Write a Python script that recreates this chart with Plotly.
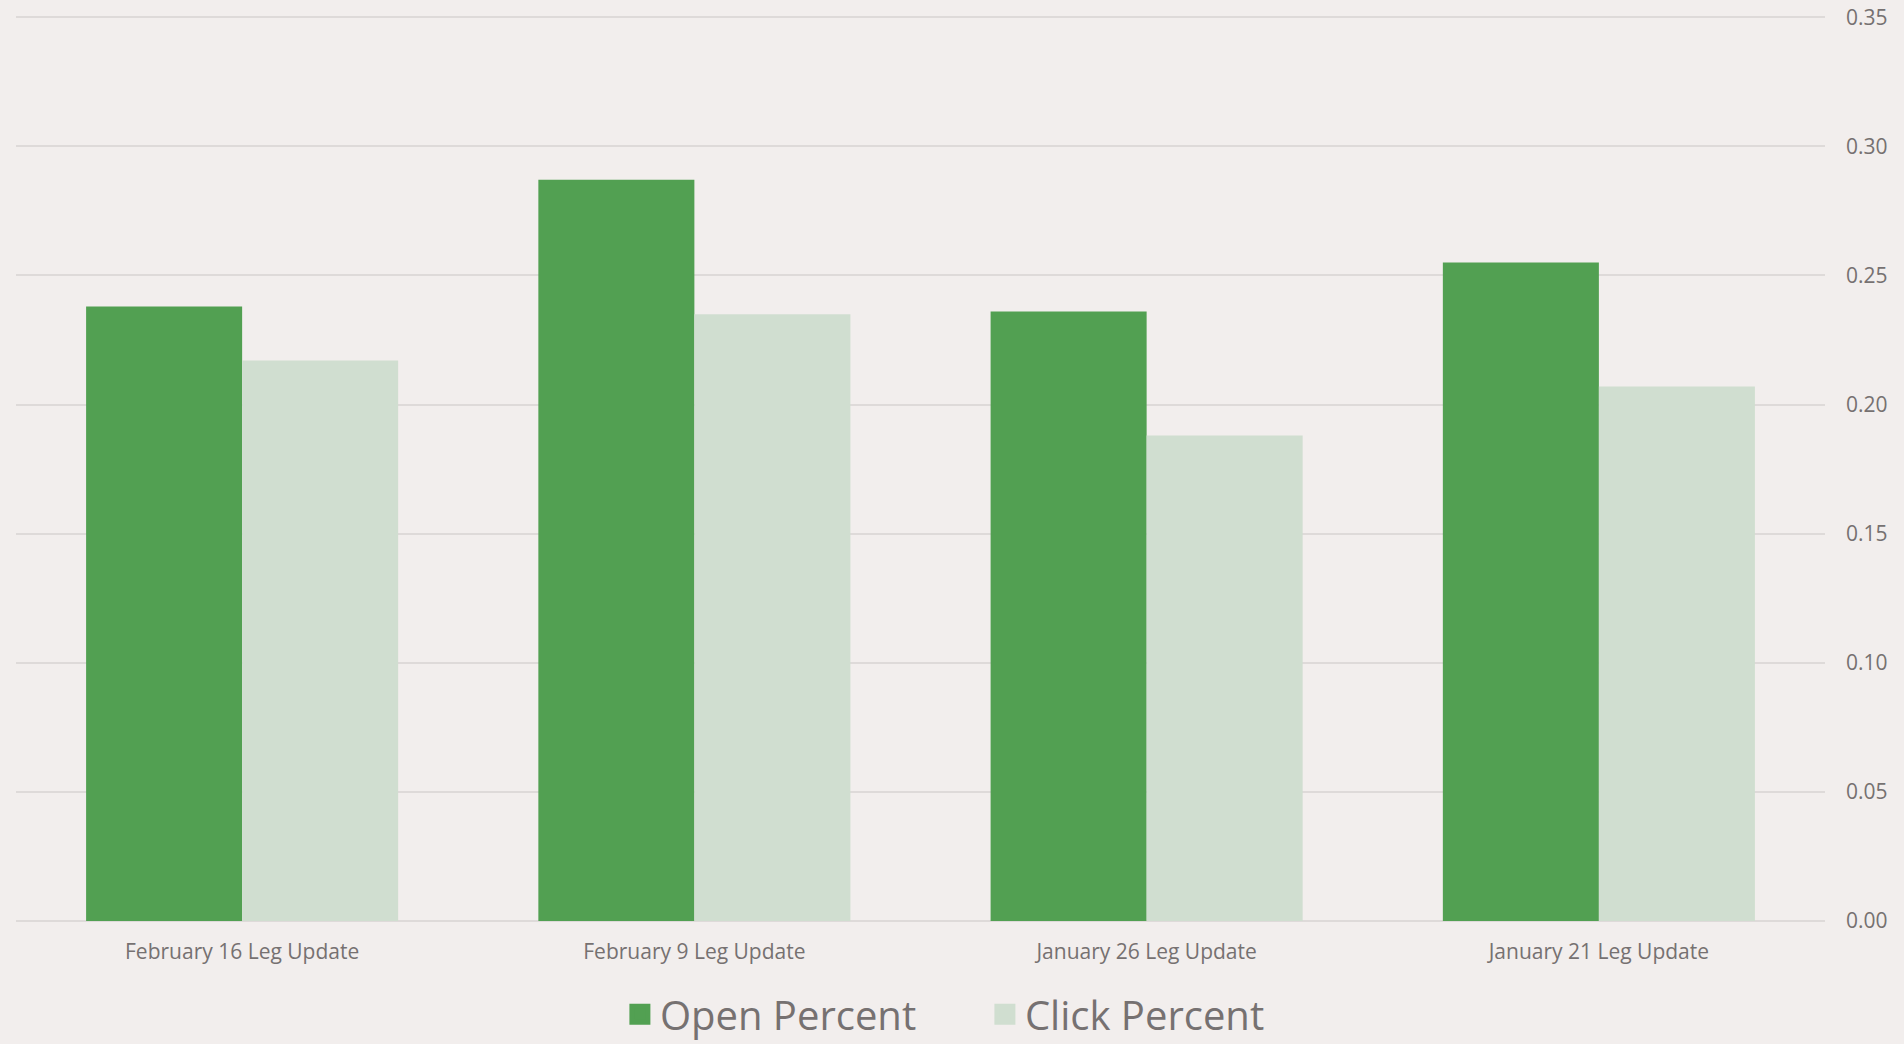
import plotly.graph_objects as go

categories = ["February 16 Leg Update", "February 9 Leg Update", "January 26 Leg Update", "January 21 Leg Update"]
open_percent = [0.238, 0.287, 0.236, 0.255]
click_percent = [0.217, 0.235, 0.188, 0.207]
y_ticks = [0.00, 0.05, 0.10, 0.15, 0.20, 0.25, 0.30, 0.35]
series_names = ["Open Percent", "Click Percent"]
series_colors = ["#52A052", "#D0DED0"]

BG = "#F2EEED"
TEXT = "#767171"
FONT = "Open Sans"

fig = go.Figure()
for name, vals, col in zip(series_names, [open_percent, click_percent], series_colors):
    fig.add_trace(go.Bar(name=name, x=categories, y=vals, showlegend=False,
                         marker=dict(color=col, line=dict(width=0))))
# legend proxies with larger square symbols
for name, col in zip(series_names, series_colors):
    fig.add_trace(go.Scatter(name=name, x=[categories[0]], y=[None], mode="markers",
                             marker=dict(symbol="square", size=16, color=col,
                                         line=dict(color=col, width=5)),
                             showlegend=True, hoverinfo="skip"))

fig.update_layout(
    width=1904, height=1044,
    paper_bgcolor=BG, plot_bgcolor=BG,
    margin=dict(l=16, r=79, t=12, b=123, autoexpand=False),
    barmode="group", bargap=0.31, bargroupgap=0,
    font=dict(family=FONT, color=TEXT),
    showlegend=True,
    legend=dict(orientation="h", x=0.5356, xanchor="center", y=-0.1025, yanchor="middle",
                font=dict(size=40, color=TEXT, family=FONT),
                bgcolor="rgba(0,0,0,0)", itemsizing="trace", itemwidth=30,
                entrywidth=320, entrywidthmode="pixels"),
    xaxis=dict(showgrid=False, showline=False, zeroline=False, ticks="",
               ticklabelstandoff=16, automargin=False,
               tickfont=dict(size=21, color=TEXT, family=FONT)),
    yaxis=dict(side="right", range=[0, 0.352], tickvals=y_ticks, tickformat=".2f",
               showgrid=True, gridcolor="#DEDAD9", gridwidth=1.5,
               zeroline=True, zerolinecolor="#DEDAD9", zerolinewidth=1.5,
               showline=False, ticks="", ticklabelstandoff=20, automargin=False,
               tickfont=dict(size=21, color=TEXT, family=FONT)),
)

fig.write_html("out.html", config={"displayModeBar": False},
               post_script="document.body.style.margin='0';document.body.style.background='" + BG + "';")
